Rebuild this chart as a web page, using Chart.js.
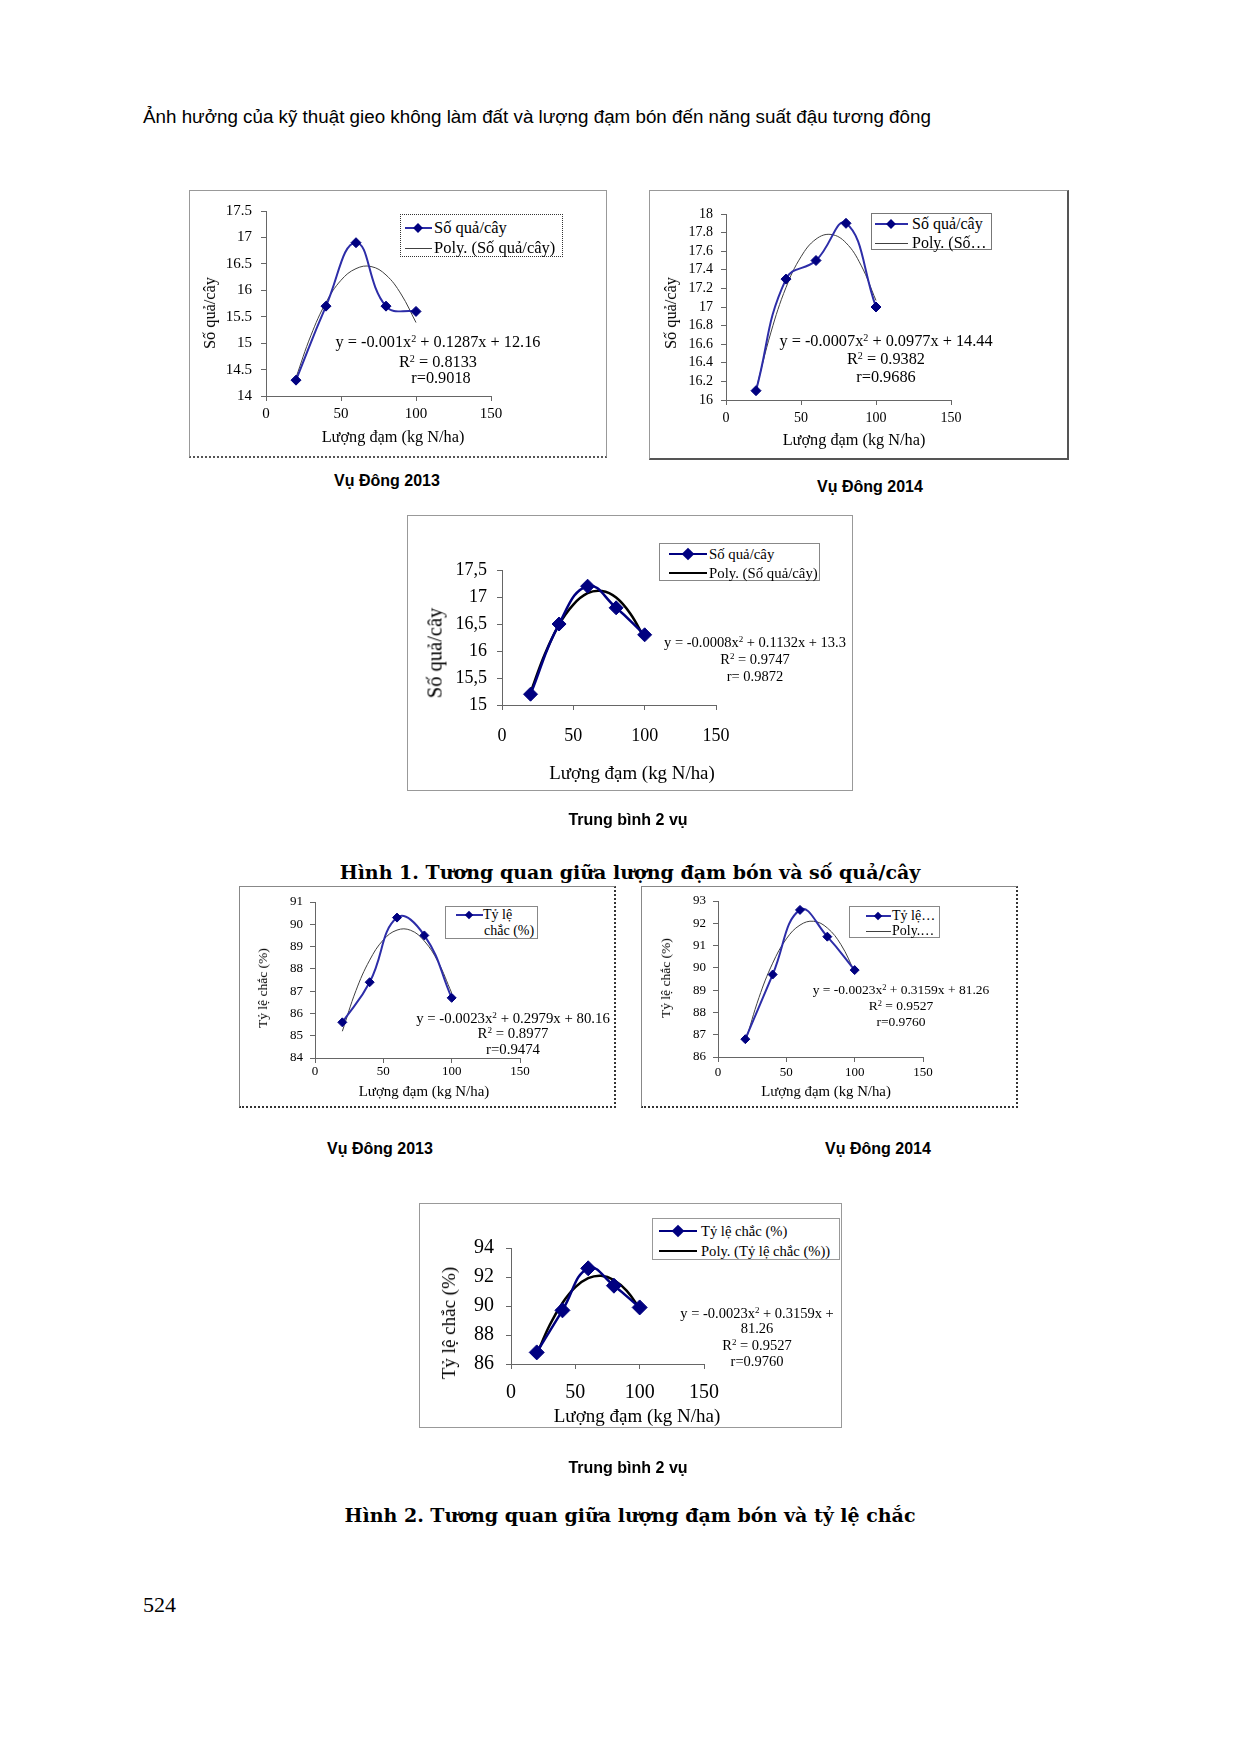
<!DOCTYPE html>
<html lang="vi">
<head>
<meta charset="utf-8">
<title>Tương quan giữa lượng đạm bón, số quả/cây và tỷ lệ chắc</title>
<script src="https://cdn.jsdelivr.net/npm/chart.js@4.4.1/dist/chart.umd.min.js"></script>
<style>
  body { margin: 0; background: #fff; }
  #page { position: relative; width: 1239px; height: 1754px; overflow: hidden; font-family: "Liberation Serif", serif; color: #000; }
  #page div, #page canvas { position: absolute; }
  .c { transform: translate(-50%, -50%); white-space: nowrap; }
  .l { transform: translateY(-50%); white-space: nowrap; }
  .v { transform: translate(-50%, -50%) rotate(-90deg); white-space: nowrap; }
  .cap { font: bold 16px "Liberation Sans", Arial, sans-serif; }
  .fig { font: bold 19px "DejaVu Serif", serif; }
  .frame, .leg { background: #fff; box-sizing: border-box; }
  .dia { transform: translate(-50%, -50%) rotate(45deg); }
  sup { font-size: 0.62em; vertical-align: 0.5em; line-height: 0; }
</style>
</head>
<body>
<div id="page">
  <div class="l" style="left:143px;top:117px;font:18.8px 'Liberation Sans',Arial,sans-serif">Ảnh hưởng của kỹ thuật gieo không làm đất và lượng đạm bón đến năng suất đậu tương đông</div>

  <!-- frames -->
  <div class="frame" style="left:189px;top:190px;width:418px;height:268px;border:1px solid #999;border-bottom:2px dotted #555"></div>
  <div class="frame" style="left:649px;top:190px;width:420px;height:270px;border:1px solid #999;border-right:2px solid #555;border-bottom:2px solid #555"></div>
  <div class="frame" style="left:407px;top:515px;width:446px;height:276px;border:1px solid #999"></div>
  <div class="frame" style="left:239px;top:886px;width:377px;height:222px;border:1px solid #888;border-right:2px dotted #333;border-bottom:2px dotted #333"></div>
  <div class="frame" style="left:641px;top:886px;width:377px;height:222px;border:1px solid #888;border-right:2px dotted #333;border-bottom:2px dotted #333"></div>
  <div class="frame" style="left:419px;top:1203px;width:423px;height:225px;border:1px solid #999"></div>

  <canvas id="c1"></canvas>
  <canvas id="c2"></canvas>
  <canvas id="c3"></canvas>
  <canvas id="c4"></canvas>
  <canvas id="c5"></canvas>
  <canvas id="c6"></canvas>

  <!-- chart 1 -->
  <div class="v" style="left:210px;top:313px;font-size:16.3px">Số quả/cây</div>
  <div class="c" style="left:393px;top:437px;font-size:16.3px">Lượng đạm (kg N/ha)</div>
  <div class="leg" style="left:400px;top:214px;width:163px;height:43px;border:1px dotted #333"></div>
  <div style="left:405px;top:227px;width:27px;border-top:2px solid #2d2da8"></div>
  <div class="dia" style="left:418px;top:228px;width:7px;height:7px;background:#000080"></div>
  <div class="l" style="left:434px;top:228px;font-size:16.5px">Số quả/cây</div>
  <div style="left:405px;top:248px;width:27px;border-top:1px solid #404040"></div>
  <div class="l" style="left:434px;top:248px;font-size:16.5px">Poly. (Số quả/cây)</div>
  <div class="c" style="left:438px;top:342px;font-size:16.3px">y = -0.001x<sup>2</sup> + 0.1287x + 12.16</div>
  <div class="c" style="left:438px;top:362px;font-size:16.3px">R<sup>2</sup> = 0.8133</div>
  <div class="c" style="left:441px;top:378px;font-size:16.3px">r=0.9018</div>

  <!-- chart 2 -->
  <div class="v" style="left:671px;top:313px;font-size:16.3px">Số quả/cây</div>
  <div class="c" style="left:854px;top:440px;font-size:16.3px">Lượng đạm (kg N/ha)</div>
  <div class="leg" style="left:871px;top:213px;width:121px;height:37px;border:1px solid #777"></div>
  <div style="left:875px;top:223px;width:33px;border-top:2px solid #2d2da8"></div>
  <div class="dia" style="left:891px;top:224px;width:7px;height:7px;background:#000080"></div>
  <div class="l" style="left:912px;top:224px;font-size:16px">Số quả/cây</div>
  <div style="left:875px;top:243px;width:33px;border-top:1px solid #404040"></div>
  <div class="l" style="left:912px;top:243px;font-size:16px">Poly. (Số…</div>
  <div class="c" style="left:886px;top:341px;font-size:16.3px">y = -0.0007x<sup>2</sup> + 0.0977x + 14.44</div>
  <div class="c" style="left:886px;top:359px;font-size:16.3px">R<sup>2</sup> = 0.9382</div>
  <div class="c" style="left:886px;top:377px;font-size:16.3px">r=0.9686</div>

  <!-- chart 3 -->
  <div class="v" style="left:435px;top:653px;font-size:20.5px">Số quả/cây</div>
  <div class="c" style="left:632px;top:773px;font-size:18.9px">Lượng đạm (kg N/ha)</div>
  <div class="leg" style="left:659px;top:543px;width:161px;height:38px;border:1px solid #888"></div>
  <div style="left:669px;top:553px;width:38px;border-top:2px solid #000080"></div>
  <div class="dia" style="left:688px;top:554px;width:9px;height:9px;background:#000080"></div>
  <div class="l" style="left:709px;top:554px;font-size:14.8px">Số quả/cây</div>
  <div style="left:669px;top:572px;width:38px;border-top:2.5px solid #000"></div>
  <div class="l" style="left:709px;top:573px;font-size:14.8px">Poly. (Số quả/cây)</div>
  <div class="c" style="left:755px;top:642px;font-size:14.5px">y = -0.0008x<sup>2</sup> + 0.1132x + 13.3</div>
  <div class="c" style="left:755px;top:659px;font-size:14.5px">R<sup>2</sup> = 0.9747</div>
  <div class="c" style="left:755px;top:676px;font-size:14.5px">r= 0.9872</div>

  <div class="c cap" style="left:387px;top:481px">Vụ Đông 2013</div>
  <div class="c cap" style="left:870px;top:487px">Vụ Đông 2014</div>
  <div class="c cap" style="left:628px;top:820px">Trung bình 2 vụ</div>
  <div class="c fig" style="left:630px;top:872px">Hình 1. Tương quan giữa lượng đạm bón và số quả/cây</div>

  <!-- chart 4 -->
  <div class="v" style="left:263px;top:988px;font-size:13.5px">Tỷ lệ chắc (%)</div>
  <div class="c" style="left:424px;top:1091px;font-size:14.9px">Lượng đạm (kg N/ha)</div>
  <div class="leg" style="left:445px;top:906px;width:93px;height:33px;border:1px solid #888"></div>
  <div style="left:456px;top:914px;width:27px;border-top:2px solid #2d2da8"></div>
  <div class="dia" style="left:469px;top:915px;width:6px;height:6px;background:#000080"></div>
  <div class="l" style="left:483px;top:915px;font-size:14px">Tỷ lệ</div>
  <div class="l" style="left:484px;top:931px;font-size:14px">chắc (%)</div>
  <div class="c" style="left:513px;top:1018px;font-size:14.8px">y = -0.0023x<sup>2</sup> + 0.2979x + 80.16</div>
  <div class="c" style="left:513px;top:1033px;font-size:14.8px">R<sup>2</sup> = 0.8977</div>
  <div class="c" style="left:513px;top:1049px;font-size:14.8px">r=0.9474</div>

  <!-- chart 5 -->
  <div class="v" style="left:666px;top:978px;font-size:13.5px">Tỷ lệ chắc (%)</div>
  <div class="c" style="left:826px;top:1091px;font-size:14.8px">Lượng đạm (kg N/ha)</div>
  <div class="leg" style="left:849px;top:906px;width:91px;height:32px;border:1px solid #888"></div>
  <div style="left:866px;top:915px;width:25px;border-top:2px solid #2d2da8"></div>
  <div class="dia" style="left:878px;top:916px;width:6px;height:6px;background:#000080"></div>
  <div class="l" style="left:892px;top:916px;font-size:14px">Tỷ lệ…</div>
  <div style="left:866px;top:931px;width:25px;border-top:1px solid #404040"></div>
  <div class="l" style="left:892px;top:931px;font-size:14px">Poly.…</div>
  <div class="c" style="left:901px;top:990px;font-size:13.5px">y = -0.0023x<sup>2</sup> + 0.3159x + 81.26</div>
  <div class="c" style="left:901px;top:1006px;font-size:13.5px">R<sup>2</sup> = 0.9527</div>
  <div class="c" style="left:901px;top:1022px;font-size:13.5px">r=0.9760</div>

  <div class="c cap" style="left:380px;top:1149px">Vụ Đông 2013</div>
  <div class="c cap" style="left:878px;top:1149px">Vụ Đông 2014</div>

  <!-- chart 6 -->
  <div class="v" style="left:449px;top:1323px;font-size:19px">Tỷ lệ chắc (%)</div>
  <div class="c" style="left:637px;top:1416px;font-size:19px">Lượng đạm (kg N/ha)</div>
  <div class="leg" style="left:652px;top:1218px;width:188px;height:42px;border:1px solid #999"></div>
  <div style="left:659px;top:1230px;width:38px;border-top:2px solid #000080"></div>
  <div class="dia" style="left:678px;top:1231px;width:9px;height:9px;background:#000080"></div>
  <div class="l" style="left:701px;top:1231px;font-size:14.6px">Tỷ lệ chắc (%)</div>
  <div style="left:659px;top:1250px;width:38px;border-top:2.5px solid #000"></div>
  <div class="l" style="left:701px;top:1251px;font-size:14.6px">Poly. (Tỷ lệ chắc (%))</div>
  <div class="c" style="left:757px;top:1313px;font-size:14.5px">y = -0.0023x<sup>2</sup> + 0.3159x +</div>
  <div class="c" style="left:757px;top:1328px;font-size:14.5px">81.26</div>
  <div class="c" style="left:757px;top:1345px;font-size:14.5px">R<sup>2</sup> = 0.9527</div>
  <div class="c" style="left:757px;top:1361px;font-size:14.5px">r=0.9760</div>

  <div class="c cap" style="left:628px;top:1468px">Trung bình 2 vụ</div>
  <div class="c fig" style="left:630px;top:1515px">Hình 2. Tương quan giữa lượng đạm bón và tỷ lệ chắc</div>

  <div class="l" style="left:143px;top:1605px;font-size:22px">524</div>
</div>

<script>
// lượng đạm (kg N/ha)
const nitrogen = [20, 40, 60, 80, 100];
const trendN = [20, 30, 40, 50, 60, 70, 80, 90, 100];
const xTicks = ["0", "50", "100", "150"];

// số quả/cây
const qua2013 = [14.3, 15.7, 16.9, 15.7, 15.6];
const qua2014 = [16.1, 17.3, 17.5, 17.9, 17.0];
const quaAvg = [15.2, 16.5, 17.2, 16.8, 16.3];
const trendQua2013 = [14.35, 15.15, 15.77, 16.19, 16.41, 16.45, 16.29, 15.93, 15.39];
const trendQua2014 = [16.11, 16.73, 17.21, 17.54, 17.73, 17.78, 17.69, 17.45, 17.07];
const trendQuaAvg = [15.23, 15.94, 16.49, 16.86, 17.07, 17.11, 16.99, 16.69, 16.23];

// tỷ lệ chắc (%)
const chac2013 = [85.6, 87.4, 90.3, 89.5, 86.7];
const chac2014 = [86.8, 89.7, 92.6, 91.4, 89.9];
const chacAvg = [86.8, 89.7, 92.6, 91.4, 89.9];
const trendChac2013 = [85.2, 87.03, 88.39, 89.3, 89.74, 89.73, 89.25, 88.32, 86.92];
const trendChac2014 = [86.66, 88.67, 90.21, 91.3, 91.92, 92.09, 91.79, 91.04, 89.82];
const trendChacAvg = [86.66, 88.67, 90.21, 91.3, 91.92, 92.09, 91.79, 91.04, 89.82];

// tick labels of the y axes
const yQua2013 = ["14", "14.5", "15", "15.5", "16", "16.5", "17", "17.5"];
const yQua2014 = ["16", "16.2", "16.4", "16.6", "16.8", "17", "17.2", "17.4", "17.6", "17.8", "18"];
const yQuaAvg = ["15", "15,5", "16", "16,5", "17", "17,5"];
const yChac2013 = ["84", "85", "86", "87", "88", "89", "90", "91"];
const yChac2014 = ["86", "87", "88", "89", "90", "91", "92", "93"];
const yChacAvg = ["86", "88", "90", "92", "94"];

const $ = id => document.getElementById(id);
const points = (xs, ys) => xs.map((x, i) => ({ x, y: ys[i] }));
const num = label => parseFloat(label.replace(",", "."));

const light = { line: "#2d2da8", lineWidth: 2, marker: "#000080", radius: 5, trend: "#404040", trendWidth: 1 };
const heavy = { line: "#000080", lineWidth: 2.5, marker: "#000080", radius: 7, trend: "#000000", trendWidth: 2.5 };

const charts = [
    { id: "c1", values: qua2013, trend: trendQua2013, yLabels: yQua2013, box: [189, 190, 418, 268], plot: [266, 211, 491, 396], font: 15, yPad: 9, xPad: 4, look: light },
    { id: "c2", values: qua2014, trend: trendQua2014, yLabels: yQua2014, box: [649, 190, 420, 270], plot: [726, 214, 951, 400], font: 14, yPad: 8, xPad: 5, look: light },
    { id: "c3", values: quaAvg, trend: trendQuaAvg, yLabels: yQuaAvg, box: [407, 515, 446, 276], plot: [502, 570, 716, 705], font: 18, yPad: 10, xPad: 15, look: heavy },
    { id: "c4", values: chac2013, trend: trendChac2013, yLabels: yChac2013, box: [239, 886, 377, 222], plot: [315, 902, 520, 1058], font: 13, yPad: 7, xPad: 1, look: { ...light, radius: 4.5 } },
    { id: "c5", values: chac2014, trend: trendChac2014, yLabels: yChac2014, box: [641, 886, 377, 222], plot: [718, 901, 923, 1057], font: 13, yPad: 7, xPad: 3, look: { ...light, radius: 4.5 } },
    { id: "c6", values: chacAvg, trend: trendChacAvg, yLabels: yChacAvg, box: [419, 1203, 423, 225], plot: [511, 1248, 704, 1364], font: 20, yPad: 12, xPad: 12, look: { ...heavy, radius: 7.5 } },
];

charts.forEach(c => {
    const [bx, by, bw, bh] = c.box;
    const [pl, pt, pr, pb] = c.plot;
    // the scales take all the room left of and below the plot, so their labels are not clipped
    const yW = pl - bx;
    const xH = by + bh - pb;
    const canvas = $(c.id);
    canvas.width = bw;
    canvas.height = bh;
    canvas.style.left = bx + "px";
    canvas.style.top = by + "px";
    const font = { family: "'Liberation Serif', serif", size: c.font };
    const axis = "#666";
    const yMin = num(c.yLabels[0]);
    const yMax = num(c.yLabels[c.yLabels.length - 1]);
    new Chart(canvas, {
        type: "scatter",
        data: {
            datasets: [{
                data: points(nitrogen, c.values),
                showLine: true,
                tension: 0.45,
                borderColor: c.look.line,
                borderWidth: c.look.lineWidth,
                pointStyle: "rectRot",
                pointRadius: c.look.radius,
                pointBackgroundColor: c.look.marker,
                pointBorderColor: c.look.marker,
                pointBorderWidth: 1,
                clip: false,
            }, {
                data: points(trendN, c.trend),
                showLine: true,
                tension: 0.4,
                borderColor: c.look.trend,
                borderWidth: c.look.trendWidth,
                pointRadius: 0,
                clip: false,
            }]
        },
        options: {
            responsive: false,
            animation: false,
            events: [],
            layout: {
                padding: { left: 0, top: pt - by, right: bx + bw - pr, bottom: 0 }
            },
            plugins: { legend: { display: false }, tooltip: { enabled: false } },
            scales: {
                x: {
                    type: "linear", min: 0, max: 150,
                    ticks: { stepSize: 50, autoSkip: false, maxRotation: 0, padding: c.xPad, color: "#000", font, callback: (v, i) => xTicks[i] },
                    grid: { drawOnChartArea: false, tickLength: 5, color: axis },
                    border: { color: axis },
                    afterFit: s => { s.height = xH; s.paddingLeft = 0; s.paddingRight = 0; },
                },
                y: {
                    type: "linear", min: yMin, max: yMax,
                    ticks: { stepSize: (yMax - yMin) / (c.yLabels.length - 1), autoSkip: false, padding: c.yPad, color: "#000", font, callback: (v, i) => c.yLabels[i] },
                    grid: { drawOnChartArea: false, tickLength: 5, color: axis },
                    border: { color: axis },
                    afterFit: s => { s.width = yW; s.paddingTop = 0; s.paddingBottom = 0; },
                },
            },
        },
    });
});
</script>
</body>
</html>
